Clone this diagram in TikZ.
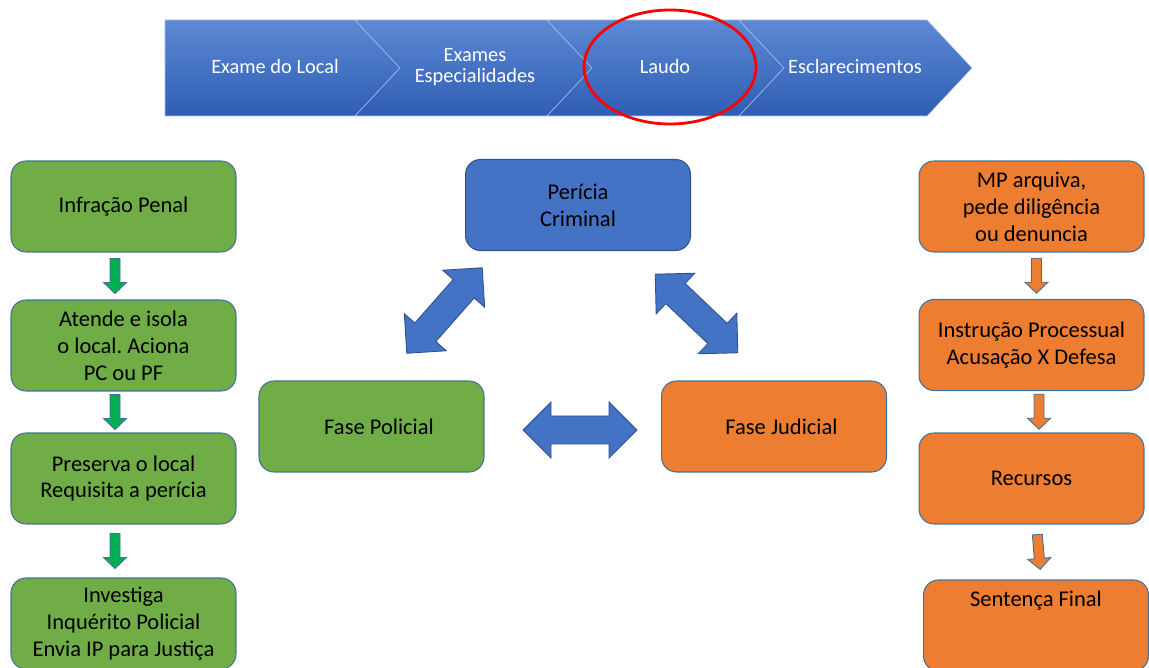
\documentclass[tikz,border=0pt]{standalone}
\usepackage{fontspec}
\setmainfont{Carlito}
\frenchspacing
\usetikzlibrary{positioning}
\definecolor{verde}{HTML}{70AD47}
\definecolor{laranja}{HTML}{ED7D31}
\definecolor{azul}{HTML}{4472C4}
\definecolor{azulborda}{HTML}{2F528F}
\definecolor{contorno}{HTML}{41719C}
\definecolor{setaverde}{HTML}{00B050}
\definecolor{faixaclara}{HTML}{5D89D4}
\definecolor{faixaescura}{HTML}{2E5DB3}
\begin{document}
\begin{tikzpicture}[x=0.02cm,y=-0.02cm,
  caixa/.style={draw=contorno,line width=0.6pt,rounded corners=0.3cm,minimum width=4.5cm,minimum height=1.82cm,align=center,font=\fontsize{12.8}{15.3}\selectfont},
  faixa/.style={top color=faixaclara,bottom color=faixaescura,draw=white!55!azul,line width=0.3pt},
  rotulo/.style={text=white,align=center,font=\fontsize{11.6}{12.2}\selectfont},
  pics/setinha/.style={code={\draw[draw=contorno,line width=0.5pt,fill=#1] (-17.5,-5) -- (6.5,-5) -- (6.5,-11.5) -- (17.5,0) -- (6.5,11.5) -- (6.5,5) -- (-17.5,5) -- cycle;}},
  pics/setadupla/.style={code={\draw[draw=azulborda,line width=0.5pt,fill=azul] (-57,0) -- (-29,-28) -- (-29,-14) -- (29,-14) -- (29,-28) -- (57,0) -- (29,28) -- (29,14) -- (-29,14) -- (-29,28) -- cycle;}}]
\useasboundingbox (0,0) rectangle (1149,668);
\clip (0,0) rectangle (1149,668);
% faixa de etapas
\shade[faixa] (165,20) -- (355,20) -- (400,68) -- (355,116) -- (165,116) -- cycle;
\shade[faixa] (355,20) -- (547,20) -- (592,68) -- (547,116) -- (355,116) -- (400,68) -- cycle;
\shade[faixa] (547,20) -- (739,20) -- (784,68) -- (739,116) -- (547,116) -- (592,68) -- cycle;
\shade[faixa] (739,20) -- (927,20) -- (972,68) -- (927,116) -- (739,116) -- (784,68) -- cycle;
\node[rotulo] (exlocal) at (275,67) {Exame do Local};
\node[rotulo] (exesp) at (475,67) {Exames\\Especialidades};
\node[rotulo] (laudo) at (665,67) {Laudo};
\node[rotulo] (escl) at (855,67) {Esclarecimentos};
\draw[red,line width=1.6pt] (670,67) ellipse (86 and 57);
% coluna policial
\node[caixa,fill=verde] (infr) at (123.5,206.5) {Infração Penal};
\node[caixa,fill=verde] (atende) at (123.5,345.5) {Atende e isola\\o local. Aciona\\PC ou PF};
\node[caixa,fill=verde] (preserva) at (123.5,478.5) {Preserva o local\\Requisita a perícia};
\node[caixa,fill=verde] (investiga) at (123.5,623.5) {Investiga\\Inquérito Policial\\Envia IP para Justiça};
\path ([xshift=-0.17cm]infr.south) -- ([xshift=-0.17cm]atende.north) pic[midway,sloped]{setinha=setaverde};
\path ([xshift=-0.17cm]atende.south) -- ([xshift=-0.17cm]preserva.north) pic[midway,sloped]{setinha=setaverde};
\path ([xshift=-0.17cm]preserva.south) -- ([xshift=-0.17cm]investiga.north) pic[midway,sloped]{setinha=setaverde};
% centro
\node[caixa,fill=azul,draw=azulborda] (pericia) at (578,205) {Perícia\\Criminal};
\node[caixa,fill=verde] (fpol) at (371.5,426.5) {\hspace{0.3cm}Fase Policial};
\node[caixa,fill=laranja] (fjud) at (774,426.5) {\hspace{0.3cm}Fase Judicial};
\coordinate (pl1) at (407,353);
\coordinate (pl2) at (482,268);
\coordinate (pj1) at (655,274);
\coordinate (pj2) at (738,353);
\coordinate (h1) at (523,430);
\coordinate (h2) at (637,430);
\path (pl1) -- (pl2) pic[midway,sloped]{setadupla};
\path (pj1) -- (pj2) pic[midway,sloped]{setadupla};
\path (h1) -- (h2) pic[midway,sloped]{setadupla};
% coluna judicial
\node[caixa,fill=laranja] (mp) at (1031.5,206.5) {MP arquiva,\\pede diligência\\ou denuncia};
\node[caixa,fill=laranja] (instr) at (1031.5,345) {Instrução Processual\\Acusação X Defesa};
\node[caixa,fill=laranja] (recursos) at (1031.5,478.5) {Recursos};
\node[caixa,fill=laranja,label={[font=\fontsize{12.8}{15.3}\selectfont,label distance=-0.74cm]north:Sentença Final}] (sentenca) at (1036,625.5) {};
\path ([xshift=0.1cm]mp.south) -- ([xshift=0.1cm]instr.north) pic[midway,sloped]{setinha=laranja};
\path ([xshift=0.15cm]instr.south) -- ([xshift=0.15cm]recursos.north) pic[midway,sloped]{setinha=laranja};
\path ([xshift=0.1cm]recursos.south) -- ([xshift=0.1cm]sentenca.north) pic[midway,sloped]{setinha=laranja};
\end{tikzpicture}
\end{document}
